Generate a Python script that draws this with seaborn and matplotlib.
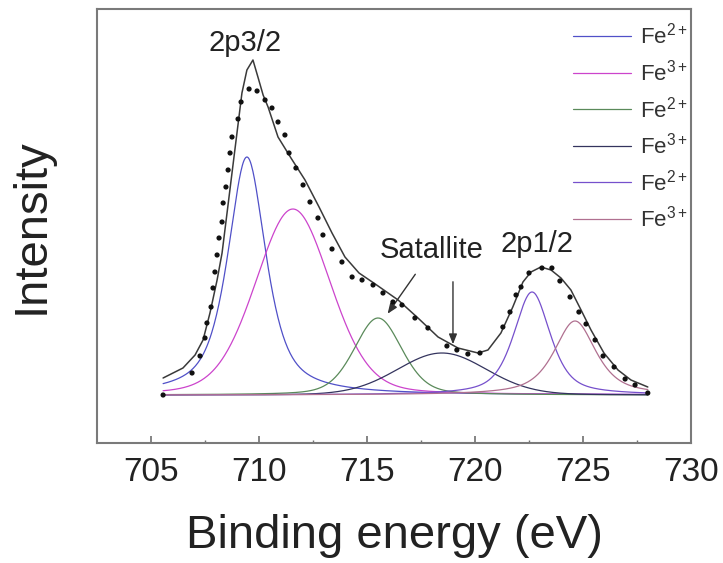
import numpy as np
import pandas as pd
import matplotlib
matplotlib.use("Agg")
import matplotlib.pyplot as plt
import seaborn as sns

# ---------------- data ----------------
# fitted components: Fe 2p peaks (binding energy centre, height, FWHM, Lorentzian fraction)
comp_labels = ["Fe$^{2+}$", "Fe$^{3+}$", "Fe$^{2+}$", "Fe$^{3+}$", "Fe$^{2+}$", "Fe$^{3+}$"]
comp_centers = [709.44, 711.57, 715.51, 718.47, 722.64, 724.63]
comp_heights = [238, 186, 77, 42, 103, 74]
comp_fwhm = [2.1, 4.1, 2.6, 4.9, 2.0, 2.3]
comp_eta = [0.7, 0.2, 0.3, 0.1, 0.6, 0.7]
comp_colors = ["#5050c8", "#cc44cc", "#5a8a5a", "#34345e", "#7650cc", "#b07090"]
energy_range = [705.56, 728.0]

# envelope (fit sum)
env_be = [705.56, 706.48, 707.04, 707.41, 707.73, 708.06, 708.29, 708.52, 708.75,
          708.98, 709.21, 709.44, 709.72, 709.95, 710.19, 710.42, 710.88, 711.48,
          712.13, 712.78, 713.38, 713.98, 714.63, 715.38, 716.44, 717.36, 718.29,
          719.21, 720.14, 720.60, 721.20, 721.75, 722.22, 722.59, 723.05, 723.52,
          723.98, 724.44, 724.91, 725.37, 725.97, 726.62, 727.22, 728.0]
env_int = [17, 27, 40, 55, 82, 115, 142, 182, 222, 262, 302, 325, 335, 318, 300,
           288, 258, 237, 215, 188, 162, 138, 122, 111, 95, 77, 58, 47, 42, 45, 62,
           88, 113, 123, 128, 125, 117, 105, 85, 65, 42, 25, 15, 8]

pts_be = [705.56, 706.90, 707.27, 707.50, 707.59, 707.78, 707.87, 707.96, 708.06,
          708.15, 708.29, 708.34, 708.47, 708.57, 708.66, 708.75, 709.03, 709.17,
          709.54, 709.91, 710.28, 710.60, 710.88, 711.20, 711.39, 711.71, 712.04,
          712.36, 712.73, 712.96, 713.38, 713.84, 714.31, 714.77, 715.28, 715.74,
          716.20, 716.62, 717.22, 717.82, 718.70, 719.16, 719.67, 720.23, 721.29,
          721.62, 721.90, 722.13, 722.50, 723.10, 723.56, 723.93, 724.40, 724.81,
          725.14, 725.56, 725.93, 726.44, 726.95, 727.41, 728.0]
pts_int = [0, 22, 39, 57, 72, 88, 107, 123, 140, 157, 173, 192, 208, 225, 242,
           258, 276, 293, 306, 304, 295, 287, 273, 260, 242, 227, 210, 193, 177,
           160, 146, 133, 118, 115, 110, 102, 93, 90, 77, 67, 49, 45, 41, 42, 68,
           83, 100, 108, 122, 127, 127, 114, 98, 83, 71, 55, 39, 28, 16, 10, 2]

annot_texts = ["2p3/2", "Satallite", "2p1/2"]
annot_be = [709.35, 718.01, 722.87]
annot_int = [344, 137, 143]

xlabel = "Binding energy (eV)"
ylabel = "Intensity"
xticks = [705, 710, 715, 720, 725, 730]

# ---------------- style ----------------
sns.set_theme(style="white")
plt.rcParams["font.family"] = ["Liberation Sans", "DejaVu Sans"]
plt.rcParams["mathtext.fontset"] = "custom"
plt.rcParams["mathtext.rm"] = "Liberation Sans"
plt.rcParams["mathtext.default"] = "regular"

fig = plt.figure(figsize=(7.23, 5.63), dpi=100)
ax = fig.add_axes([97 / 723, 1 - 443 / 563, 594 / 723, 434 / 563])

# component curves
be = np.linspace(energy_range[0], energy_range[1], 600)
frames = []
for i, (c, h, w, eta) in enumerate(zip(comp_centers, comp_heights, comp_fwhm, comp_eta)):
    hw = w / 2.0
    lor = 1.0 / (1.0 + ((be - c) / hw) ** 2)
    gau = np.exp(-np.log(2) * ((be - c) / hw) ** 2)
    y = h * (eta * lor + (1 - eta) * gau)
    frames.append(pd.DataFrame({"be": be, "I": y, "comp": f"c{i}"}))
comp_df = pd.concat(frames, ignore_index=True)

for i in range(len(comp_centers)):
    sub = comp_df[comp_df["comp"] == f"c{i}"]
    sns.lineplot(data=sub, x="be", y="I", ax=ax, color=comp_colors[i],
                 linewidth=0.9, label=comp_labels[i], sort=False)

env_df = pd.DataFrame({"be": env_be, "I": env_int})
sns.lineplot(data=env_df, x="be", y="I", ax=ax, color="#3a3a3a", linewidth=1.1,
             sort=False, label="_env")

pts_df = pd.DataFrame({"be": pts_be, "I": pts_int})
sns.scatterplot(data=pts_df, x="be", y="I", ax=ax, color="#111111", s=14,
                edgecolor="none", zorder=5, label="_pts")

# annotations
for t, xb, yi in zip(annot_texts, annot_be, annot_int):
    ax.text(xb, yi, t, ha="center", va="baseline", fontsize=21, color="#222222")
arrow_kw = dict(arrowstyle="-|>,head_length=0.5,head_width=0.2", color="#333333", lw=1.0)
ax.annotate("", xy=(715.88, 79), xytext=(717.31, 123), arrowprops=arrow_kw)
ax.annotate("", xy=(718.98, 48), xytext=(718.98, 116), arrowprops=arrow_kw)

# axes
ax.set_xlim(702.5, 730)
ax.set_ylim(-48, 386)
ax.set_xticks(xticks)
ax.set_xticks(np.arange(707.5, 730, 5), minor=True)
ax.set_yticks([])
ax.tick_params(axis="x", which="major", direction="in", length=5, width=1.2,
               color="#707070", labelsize=24, labelcolor="#222222", pad=10,
               bottom=True, top=False)
ax.tick_params(axis="x", which="minor", direction="in", length=2.5, width=1.0,
               color="#707070", bottom=True, top=False)
for sp in ax.spines.values():
    sp.set_color("#7a7a7a")
    sp.set_linewidth(1.5)
ax.set_xlabel(xlabel, fontsize=34, color="#222222", labelpad=19)
ax.set_ylabel(ylabel, fontsize=34, color="#222222", labelpad=31)

handles, labels = ax.get_legend_handles_labels()
keep = [(h, l) for h, l in zip(handles, labels) if not l.startswith("_")]
leg = ax.legend([k[0] for k in keep], [k[1] for k in keep], loc="upper left",
                bbox_to_anchor=((573 - 97) / 594, (443 - 23) / 434),
                frameon=False, fontsize=16, handlelength=2.6, handletextpad=0.4,
                labelspacing=0.48, borderpad=0, borderaxespad=0)
for t in leg.get_texts():
    t.set_color("#333333")

fig.savefig("out.png", dpi=100)
